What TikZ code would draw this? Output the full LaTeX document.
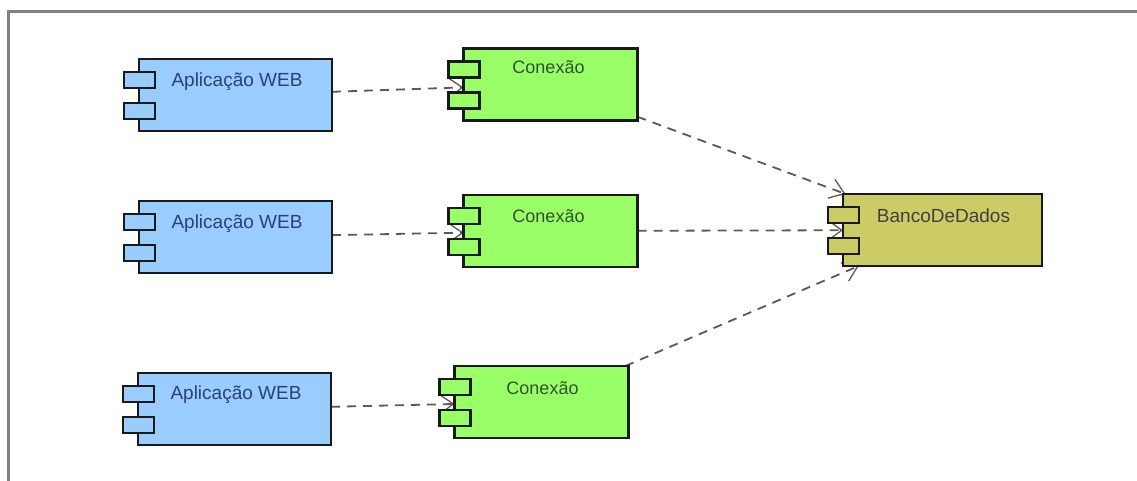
\documentclass[tikz,border=0pt]{standalone}
\usepackage{fontspec}
\setmainfont{Liberation Sans}
\usetikzlibrary{calc,arrows.meta,backgrounds}
\definecolor{webblue}{HTML}{99CCFF}
\definecolor{conngreen}{HTML}{99FF66}
\definecolor{dbyellow}{HTML}{CCCC66}
\tikzset{
	comp/.style={draw=black!90,line width=2.8pt,inner sep=0pt,outer sep=0pt,minimum height=72pt},
	web/.style={comp,fill=webblue,minimum width=193pt},
	conn/.style={comp,fill=conngreen,minimum width=174pt},
	db/.style={comp,fill=dbyellow,minimum width=199pt},
	port/.style={draw=black!90,line width=2.8pt,inner sep=0pt,outer sep=0pt,minimum width=31pt,minimum height=16pt},
	comptext/.style={inner sep=0pt,text=black!75,font=\fontsize{19}{22}\selectfont},
	webtext/.style={comptext,text={rgb,255:red,45;green,65;blue,115}},
	conntext/.style={comptext,text={rgb,255:red,50;green,80;blue,50},font=\fontsize{18}{20}\selectfont},
	dep/.style={dash pattern=on 9pt off 7pt,line width=1.8pt,draw=black!65,-{Straight Barb[length=14pt,width=20pt,line width=1.3pt]}}
}
\begin{document}
\begin{tikzpicture}[x=1pt,y=-1pt]
		\useasboundingbox (0,0) rectangle (1137,481);
		\coordinate (framebot) at (8,481);
		\coordinate (frameend) at (1137,12);
		\draw [line width=3pt,draw=black!50] (framebot) |- (frameend);

		\node [web] (web1) at (235.5,95) {};
		\node [web] (web2) at (235.5,237) {};
		\node [web] (web3) at (234.5,409) {};
		\node [conn] (conn1) at (550.5,84.5) {};
		\node [conn] (conn2) at (550.5,231) {};
		\node [conn] (conn3) at (541.5,402) {};
		\node [db] (banco) at (942.5,230) {};

		\node [port,fill=webblue] (w1a) at ($(web1.north west) + (0.5,21)$) {};
		\node [port,fill=webblue] (w1b) at ($(web1.north west) + (0.5,52)$) {};
		\node [port,fill=webblue] (w2a) at ($(web2.north west) + (0.5,21)$) {};
		\node [port,fill=webblue] (w2b) at ($(web2.north west) + (0.5,52)$) {};
		\node [port,fill=webblue] (w3a) at ($(web3.north west) + (0.5,21)$) {};
		\node [port,fill=webblue] (w3b) at ($(web3.north west) + (0.5,52)$) {};
		\node [port,fill=conngreen] (c1a) at ($(conn1.north west) + (0.5,21)$) {};
		\node [port,fill=conngreen] (c1b) at ($(conn1.north west) + (0.5,52)$) {};
		\node [port,fill=conngreen] (c2a) at ($(conn2.north west) + (0.5,21)$) {};
		\node [port,fill=conngreen] (c2b) at ($(conn2.north west) + (0.5,52)$) {};
		\node [port,fill=conngreen] (c3a) at ($(conn3.north west) + (0.5,21)$) {};
		\node [port,fill=conngreen] (c3b) at ($(conn3.north west) + (0.5,52)$) {};
		\node [port,fill=dbyellow] (b1a) at ($(banco.north west) + (0.5,21)$) {};
		\node [port,fill=dbyellow] (b1b) at ($(banco.north west) + (0.5,52)$) {};

		\node [webtext] (t1) at ($(web1) + (1.5,-13)$) {Aplicação WEB};
		\node [webtext] (t2) at ($(web2) + (1.5,-13)$) {Aplicação WEB};
		\node [webtext] (t3) at ($(web3) + (1.5,-14)$) {Aplicação WEB};
		\node [conntext] (t4) at ($(conn1) + (-2,-17)$) {Conexão};
		\node [conntext] (t5) at ($(conn2) + (-2,-15)$) {Conexão};
		\node [conntext] (t6) at ($(conn3) + (1,-14)$) {Conexão};
		\node [comptext] (t7) at ($(banco) + (1,-14)$) {BancoDeDados};

		\begin{scope}[on background layer]
		\draw [dep] (web1) -- (conn1);
		\draw [dep] (web2) -- (conn2);
		\draw [dep] (web3) -- (conn3);
		\draw [dep] (conn1) -- (banco);
		\draw [dep] (conn2) -- (banco);
		\draw [dep] (conn3) -- (banco);
		\end{scope}
		\end{tikzpicture}
\end{document}
